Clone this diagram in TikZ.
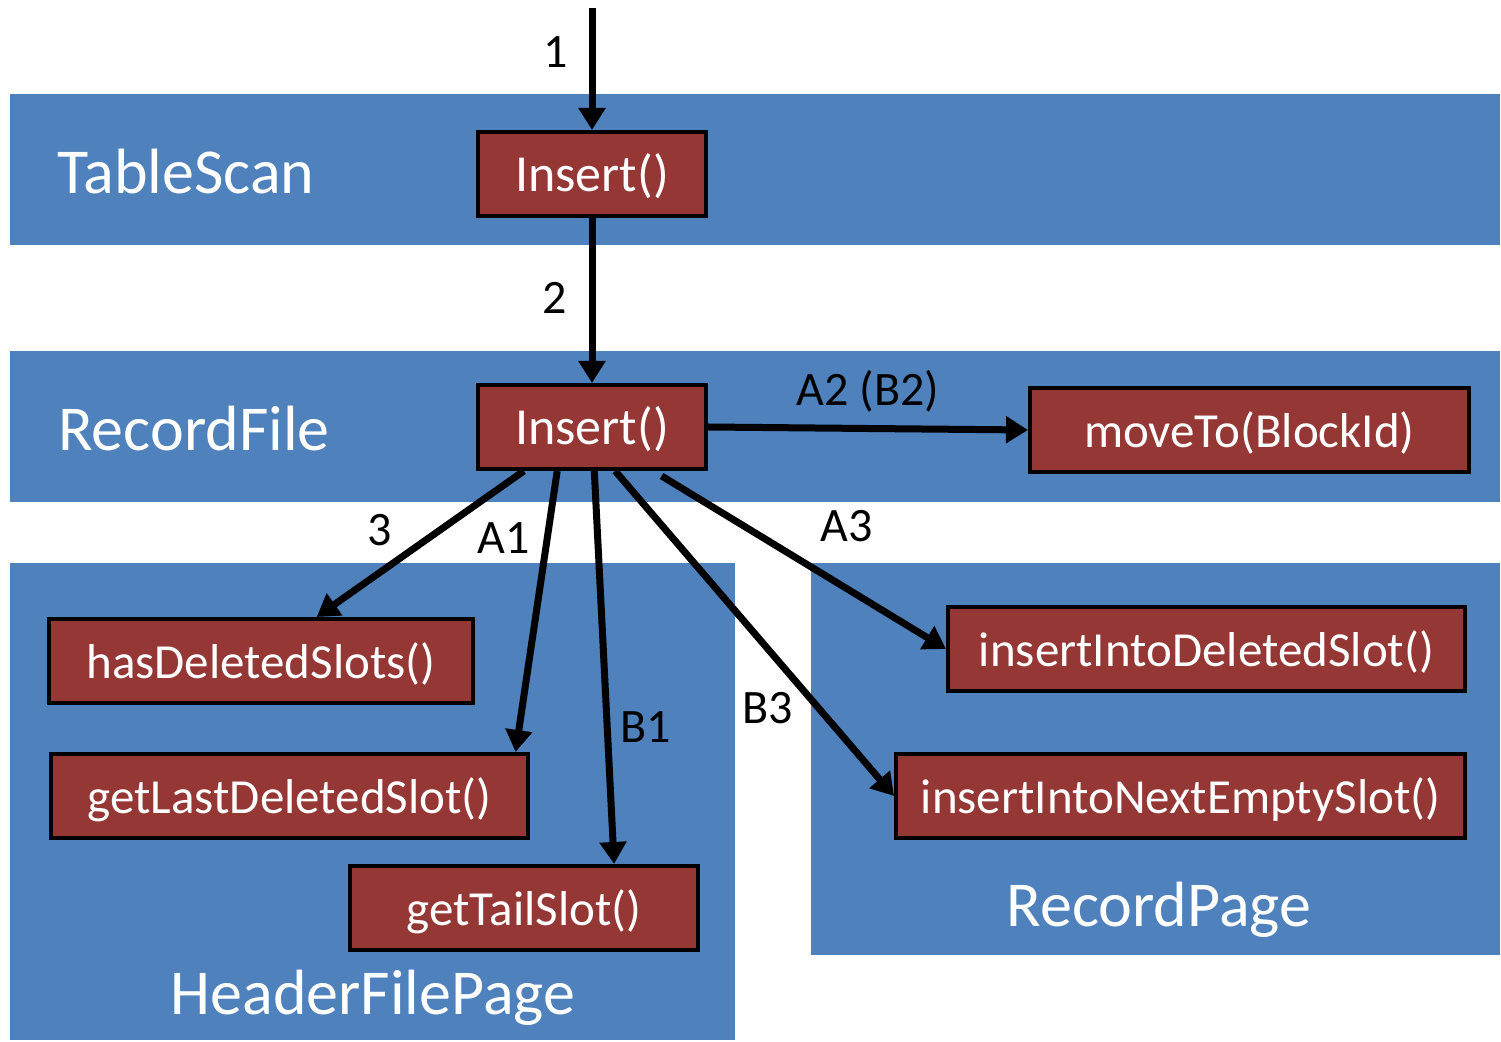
\documentclass[tikz,border=0pt]{standalone}
\usepackage{fontspec}
\setmainfont{Carlito}
\usetikzlibrary{arrows.meta,calc}
\definecolor{bandblue}{HTML}{4F81BD}
\definecolor{boxred}{HTML}{953735}
\begin{document}
\begin{tikzpicture}[x=0.5pt,y=-0.5pt,
  band/.style={fill=bandblue,draw=none},
  bandlabel/.style={text=white,font=\fontsize{32}{38}\selectfont,inner sep=0pt},
  fn/.style={draw=black,line width=2pt,fill=boxred,text=white,font=\fontsize{24.5}{29}\selectfont,minimum height=42pt,inner sep=0pt,text depth=4pt,text height=22pt},
  bigfn/.style={font=\fontsize{26}{31}\selectfont},
  conn/.style={line width=3.5pt,-{Triangle[length=11pt,width=13pt]}},
  elabel/.style={font=\fontsize{24}{28}\selectfont,inner sep=0pt}]
\useasboundingbox (0,0) rectangle (1501,1042);
% bands
\fill[band] (10,94) rectangle (1500,245);
\fill[band] (10,351) rectangle (1500,502);
\fill[band] (10,563) rectangle (735,1040);
\fill[band] (811,563) rectangle (1500,955);
\node[bandlabel] (lts) at (186,172) {TableScan};
\node[bandlabel] (lrf) at (194,429) {RecordFile};
\node[bandlabel] (lhp) at (373,998) {HeaderFilePage};
\node[bandlabel] (lrp) at (1159,910) {RecordPage};
% boxes
\node[fn,bigfn,minimum width=114pt] (ins1) at (592,174) {Insert()};
\node[fn,bigfn,minimum width=114pt] (ins2) at (592,427) {Insert()};
\node[fn,minimum width=219.5pt] (move) at (1249.5,430) {moveTo(BlockId)};
\node[fn,minimum width=212pt] (hds) at (261,661) {hasDeletedSlots()};
\node[fn,minimum width=238.5pt] (gld) at (289.5,796) {getLastDeletedSlot()};
\node[fn,minimum width=174pt] (gts) at (524,908) {getTailSlot()};
\node[fn,minimum width=258.5pt] (iid) at (1206.5,649) {insertIntoDeletedSlot()};
\node[fn,minimum width=284.5pt] (ine) at (1180.5,796) {insertIntoNextEmptySlot()};
% connectors
\coordinate (top) at (592,8);
\draw[conn] (top) -- (ins1.north);
\draw[conn] (ins1.south) -- (ins2.north);
\draw[conn] (ins2.east) -- (move.west);
\draw[conn] ($(ins2.south west)!0.206!(ins2.south east)$) -- ($(hds.north west)!0.63!(hds.north east)$);
\draw[conn] ($(ins2.south west)!0.35!(ins2.south east)$) -- ($(gld.north west)!0.97!(gld.north east)$);
\draw[conn] ($(ins2.south west)!0.51!(ins2.south east)$) -- ($(gts.north west)!0.756!(gts.north east)$);
\draw[conn] ($(ins2.south west)!0.60!(ins2.south east)$) -- (ine.west);
\draw[conn] ($(ins2.south west)!0.80!(ins2.south east)+(0,5)$) -- (iid.west);
% labels
\node[elabel] (l1) at (556,52) {1};
\node[elabel] (l2) at (555,298) {2};
\node[elabel] (la2) at (868,391) {A2 (B2)};
\node[elabel] (l3) at (380,530) {3};
\node[elabel] (la1) at (504,538) {A1};
\node[elabel] (lb1) at (646,727) {B1};
\node[elabel] (lb3) at (768,708) {B3};
\node[elabel] (la3) at (847,526) {A3};
\end{tikzpicture}
\end{document}
